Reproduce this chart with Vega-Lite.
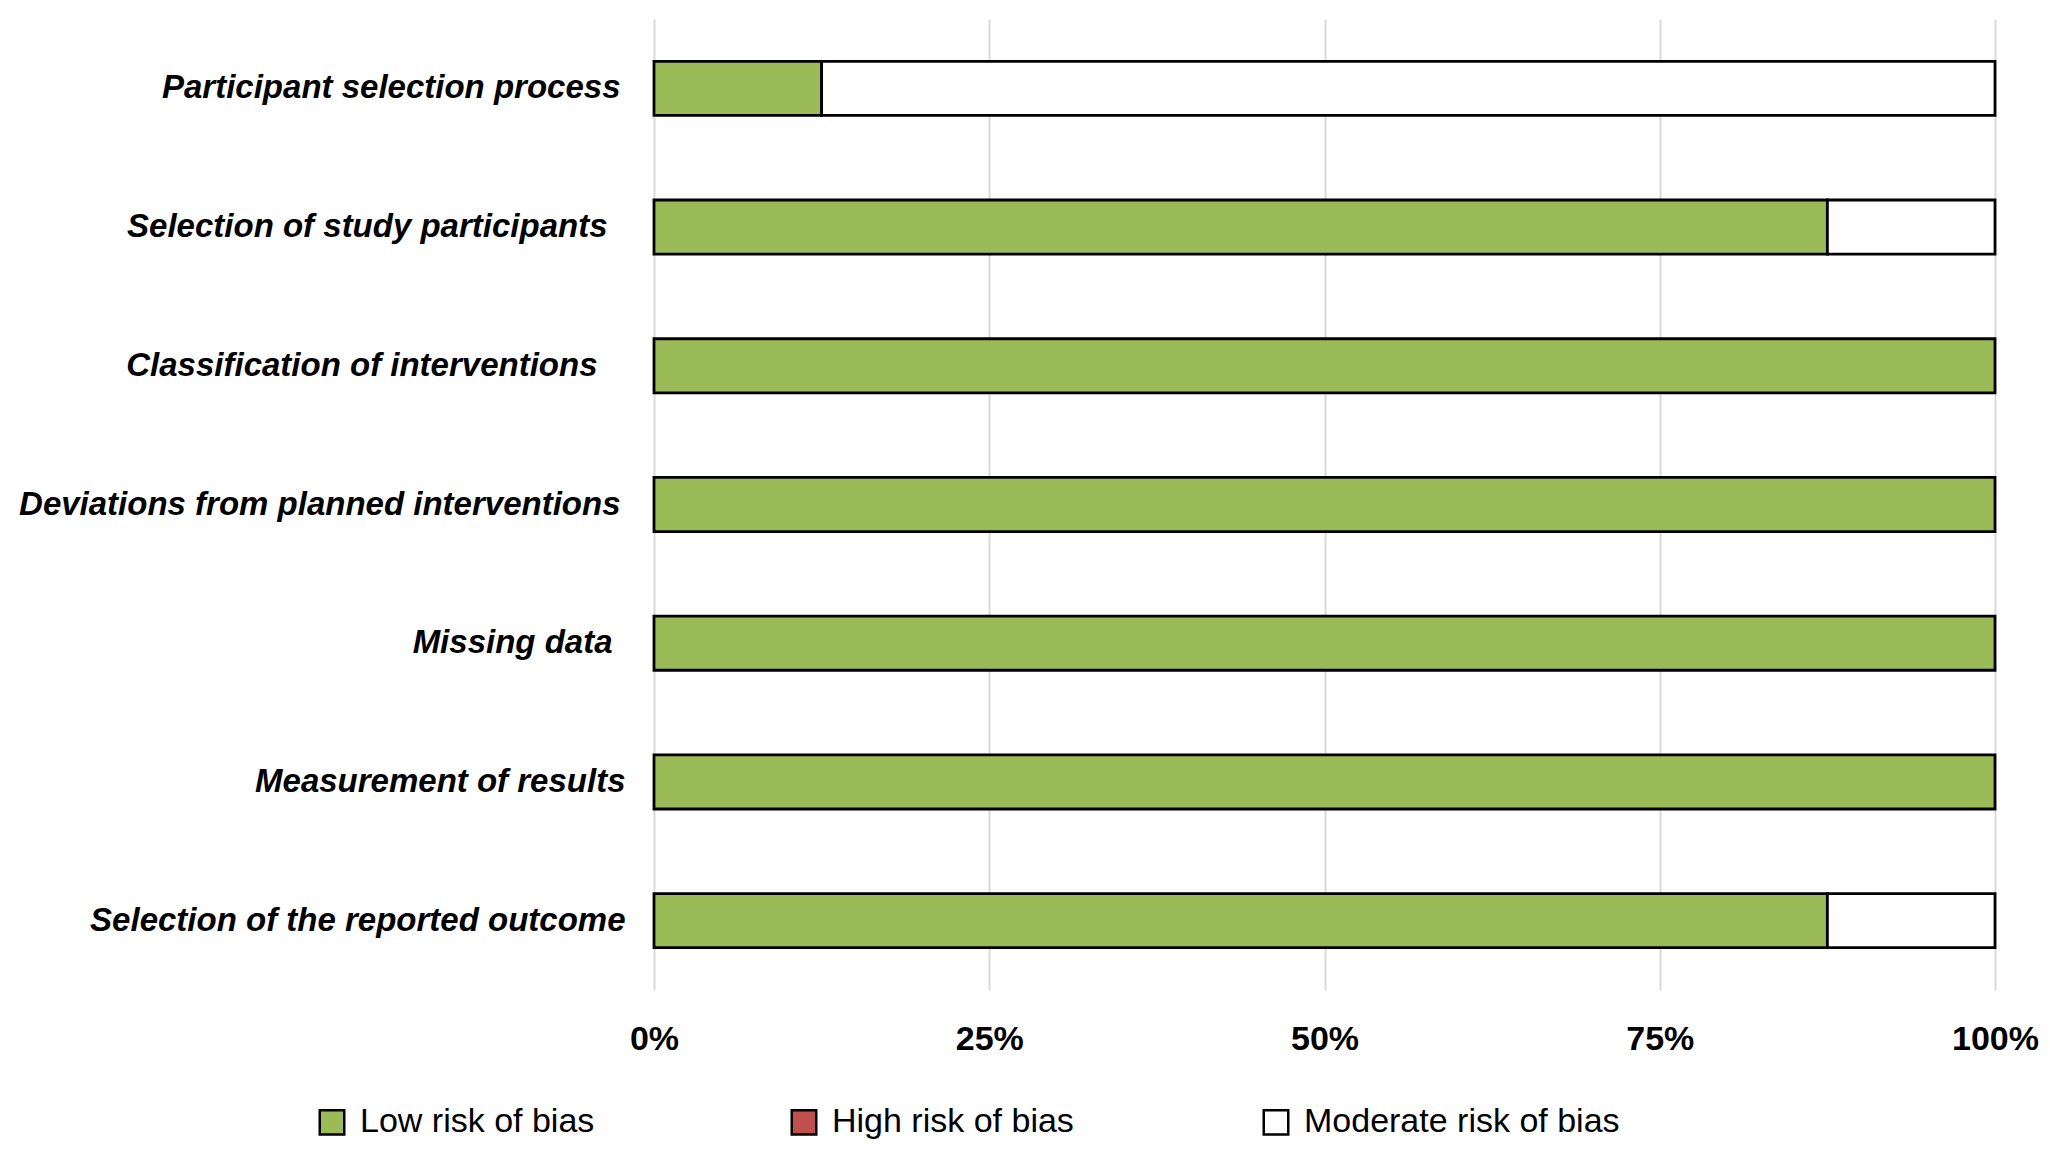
{
  "$schema": "https://vega.github.io/schema/vega-lite/v6.json",
  "width": 1341,
  "height": 971,
  "autosize": {"type": "none"},
  "padding": {"left": 654, "top": 19, "right": 55, "bottom": 169},
  "background": "white",
  "config": {"view": {"stroke": null}},
  "data": {
    "values": [
      {"domain": "Participant selection process", "risk": "Low risk of bias", "pct": 12.5},
      {"domain": "Participant selection process", "risk": "Moderate risk of bias", "pct": 87.5},
      {"domain": "Selection of study participants", "risk": "Low risk of bias", "pct": 87.5},
      {"domain": "Selection of study participants", "risk": "Moderate risk of bias", "pct": 12.5},
      {"domain": "Classification of interventions", "risk": "Low risk of bias", "pct": 100},
      {"domain": "Deviations from planned interventions", "risk": "Low risk of bias", "pct": 100},
      {"domain": "Missing data", "risk": "Low risk of bias", "pct": 100},
      {"domain": "Measurement of results", "risk": "Low risk of bias", "pct": 100},
      {"domain": "Selection of the reported outcome", "risk": "Low risk of bias", "pct": 87.5},
      {"domain": "Selection of the reported outcome", "risk": "Moderate risk of bias", "pct": 12.5}
    ]
  },
  "mark": {"type": "bar", "stroke": "black", "strokeWidth": 2.8},
  "encoding": {
    "y": {
      "field": "domain",
      "type": "nominal",
      "sort": null,
      "title": null,
      "scale": {"paddingInner": 0.61, "paddingOuter": 0.305},
      "axis": {
        "domain": false,
        "ticks": false,
        "grid": false,
        "labelPadding": {
          "condition": [
            {"test": "datum.value == 'Selection of study participants'", "value": 47},
            {"test": "datum.value == 'Classification of interventions'", "value": 57},
            {"test": "datum.value == 'Missing data'", "value": 42},
            {"test": "datum.value == 'Participant selection process' || datum.value == 'Deviations from planned interventions'", "value": 34}
          ],
          "value": 29
        },
        "labelFont": "Liberation Sans",
        "labelFontWeight": "bold",
        "labelFontStyle": "italic",
        "labelFontSize": 33,
        "labelColor": "black",
        "labelLimit": 700
      }
    },
    "x": {
      "field": "pct",
      "type": "quantitative",
      "stack": "zero",
      "title": null,
      "scale": {"domain": [0, 100]},
      "axis": {
        "values": [0, 25, 50, 75, 100],
        "labelExpr": "datum.value + '%'",
        "domain": false,
        "ticks": false,
        "grid": true,
        "gridColor": "#d9d9d9",
        "gridWidth": 2,
        "labelFont": "Liberation Sans",
        "labelFontWeight": "bold",
        "labelFontSize": 34,
        "labelColor": "black",
        "labelPadding": 32,
        "labelFlush": false
      }
    },
    "order": {"field": "risk", "sort": "ascending"},
    "color": {
      "field": "risk",
      "type": "nominal",
      "title": null,
      "scale": {
        "domain": ["Low risk of bias", "High risk of bias", "Moderate risk of bias"],
        "range": ["#9BBB59", "#C0504D", "#FFFFFF"]
      },
      "legend": {
        "orient": "none",
        "legendX": -339,
        "legendY": 1086,
        "direction": "horizontal",
        "columns": 3,
        "gridAlign": "all",
        "columnPadding": 110,
        "symbolType": "square",
        "symbolSize": 600,
        "symbolStrokeColor": "black",
        "symbolStrokeWidth": 2.5,
        "symbolOpacity": 1,
        "labelFont": "Liberation Sans",
        "labelFontSize": 34,
        "labelColor": "black",
        "labelOffset": 11,
        "labelLimit": 500
      }
    }
  }
}
